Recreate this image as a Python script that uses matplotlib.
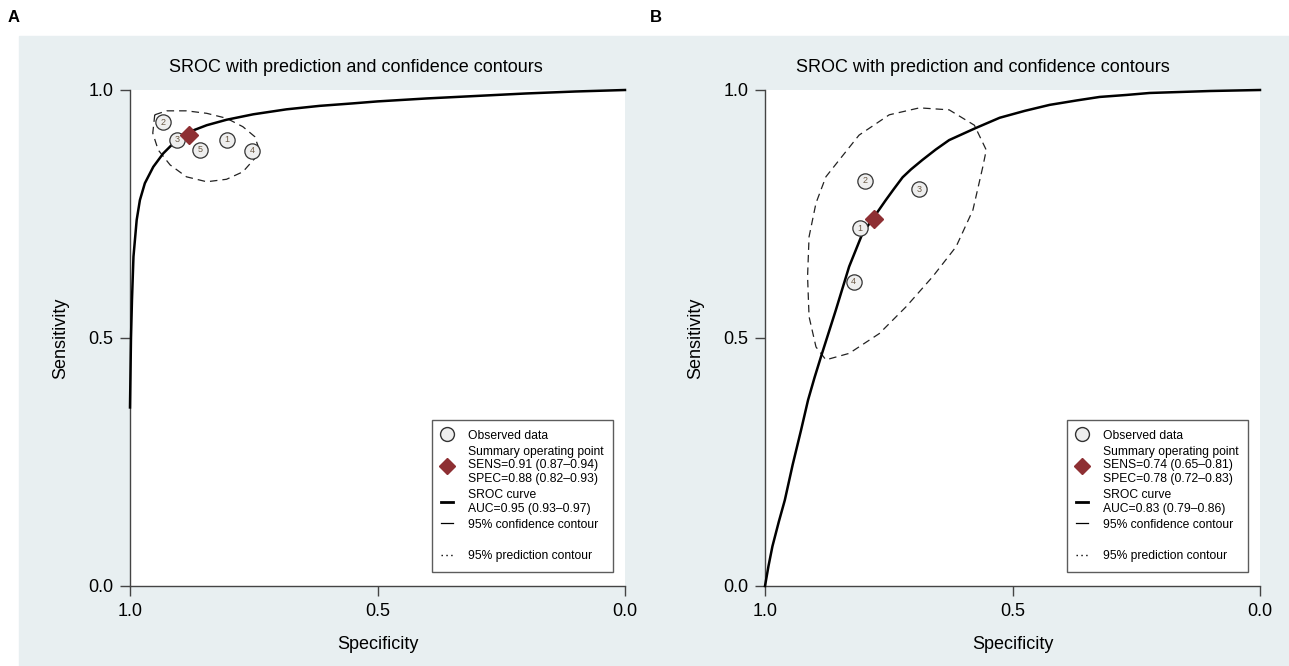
import matplotlib.pyplot as plt
from matplotlib.lines import Line2D
from matplotlib.patches import Rectangle

plt.rcParams['font.family'] = ['Liberation Sans', 'DejaVu Sans']

# panel A data
spec_curve_a = [1.0, 0.998, 0.996, 0.993, 0.9865, 0.980, 0.970, 0.953, 0.933, 0.906, 0.879,
                0.845, 0.805, 0.751, 0.684, 0.617, 0.55, 0.5, 0.45, 0.4, 0.3, 0.2, 0.1, 0.0]
sens_curve_a = [0.36, 0.50, 0.577, 0.664, 0.738, 0.778, 0.812, 0.845, 0.872, 0.899, 0.916,
                0.929, 0.940, 0.951, 0.961, 0.968, 0.973, 0.977, 0.980, 0.983, 0.988, 0.993,
                0.997, 1.0]
spec_conf_a = [0.950, 0.926, 0.886, 0.845, 0.805, 0.772, 0.748, 0.741, 0.748, 0.772, 0.805,
               0.845, 0.886, 0.919, 0.943, 0.954, 0.950]
sens_conf_a = [0.950, 0.958, 0.958, 0.953, 0.943, 0.926, 0.906, 0.886, 0.862, 0.835, 0.820,
               0.815, 0.825, 0.849, 0.879, 0.913, 0.950]
study_a = ['1', '2', '3', '4', '5']
spec_obs_a = [0.804, 0.934, 0.905, 0.753, 0.859]
sens_obs_a = [0.900, 0.935, 0.900, 0.878, 0.880]
summary_a = (0.88, 0.91)
stats_a = ['SENS=0.91 (0.87\u20130.94)', 'SPEC=0.88 (0.82\u20130.93)', 'AUC=0.95 (0.93\u20130.97)']

# panel B data
spec_curve_b = [1.0, 0.993, 0.985, 0.972, 0.960, 0.944, 0.927, 0.913, 0.900, 0.887, 0.857,
                0.830, 0.803, 0.779, 0.756, 0.740, 0.722, 0.705, 0.682, 0.655, 0.628, 0.575,
                0.526, 0.475, 0.425, 0.37, 0.324, 0.27, 0.223, 0.1, 0.0]
sens_curve_b = [0.0, 0.04, 0.08, 0.13, 0.173, 0.245, 0.315, 0.375, 0.42, 0.462, 0.556,
                0.644, 0.711, 0.745, 0.778, 0.800, 0.824, 0.840, 0.859, 0.880, 0.899, 0.923,
                0.944, 0.958, 0.970, 0.979, 0.986, 0.990, 0.994, 0.998, 1.0]
spec_conf_b = [0.560, 0.580, 0.614, 0.661, 0.715, 0.769, 0.830, 0.877, 0.897, 0.911, 0.914,
               0.911, 0.897, 0.877, 0.850, 0.810, 0.749, 0.688, 0.628, 0.577, 0.553, 0.560]
sens_conf_b = [0.845, 0.758, 0.684, 0.624, 0.563, 0.509, 0.469, 0.456, 0.482, 0.543, 0.624,
               0.704, 0.772, 0.825, 0.859, 0.909, 0.950, 0.964, 0.960, 0.929, 0.879, 0.845]
study_b = ['1', '2', '3', '4']
spec_obs_b = [0.808, 0.798, 0.688, 0.821]
sens_obs_b = [0.721, 0.817, 0.800, 0.613]
summary_b = (0.78, 0.74)
stats_b = ['SENS=0.74 (0.65\u20130.81)', 'SPEC=0.78 (0.72\u20130.83)', 'AUC=0.83 (0.79\u20130.86)']

bg = '#e8eff1'
red = '#8e2f33'
W, H = 1289, 666

fig = plt.figure(figsize=(W / 100, H / 100), dpi=100)
fig.patches.append(Rectangle((19 / W, 0), 1 - 19 / W, (H - 36) / H,
                             transform=fig.transFigure, color=bg, zorder=-10))


def panel(left, title_x, letter, letter_x, spec_c, sens_c, spec_e, sens_e,
          labels, spec_o, sens_o, summary, stats):
    ax = fig.add_axes([left / W, (H - 586) / H, 495 / W, 496 / H])
    ax.set_facecolor('white')
    ax.set_xlim(1, 0)
    ax.set_ylim(0, 1)
    for s in ['top', 'right']:
        ax.spines[s].set_visible(False)
    for s in ['left', 'bottom']:
        ax.spines[s].set_color('#444444')
        ax.spines[s].set_linewidth(1.0)
    ax.set_xticks([1.0, 0.5, 0.0])
    ax.set_yticks([0.0, 0.5, 1.0])
    ax.set_xticklabels(['1.0', '0.5', '0.0'])
    ax.set_yticklabels(['0.0', '0.5', '1.0'])
    ax.tick_params(direction='out', length=7, width=1, color='#444444',
                   labelsize=13, pad=5)
    ax.set_xlabel('Specificity', fontsize=13, labelpad=12)
    ax.set_ylabel('Sensitivity', fontsize=13, labelpad=14)

    # SROC curve and confidence contour
    ax.plot(spec_c, sens_c, color='black', lw=1.8, clip_on=False, zorder=3)
    ax.plot(spec_e, sens_e, color='#222222', lw=0.9, ls=(0, (6, 4)), zorder=2)

    # observed studies
    ax.plot(spec_o, sens_o, 'o', ms=11, mfc='#eeeeee', mec='#333333', mew=0.9,
            ls='none', zorder=4)
    for lab, x, y in zip(labels, spec_o, sens_o):
        ax.text(x, y, lab, fontsize=6.5, ha='center', va='center',
                color='#6b5a45', zorder=5)

    # summary operating point
    ax.plot(summary[0], summary[1], 'D', ms=9, color=red, zorder=6)

    handles = [
        Line2D([], [], marker='o', ls='none', ms=10, mfc='#eeeeee', mec='#333333'),
        Line2D([], [], marker='D', ls='none', ms=8, color=red),
        Line2D([], [], color='black', lw=2),
        Line2D([], [], color='black', lw=0.9),
        Line2D([], [], ls='none'),
        Line2D([], [], color='black', lw=1, ls=(0, (1, 2.5))),
    ]
    names = [
        'Observed data',
        'Summary operating point\n' + stats[0] + '\n' + stats[1],
        'SROC curve\n' + stats[2],
        '95% confidence contour',
        ' ',
        '95% prediction contour',
    ]
    leg = ax.legend(handles, names, loc='lower right', fontsize=8.7, frameon=True,
                    fancybox=False, edgecolor='#333333', handlelength=1.0,
                    handletextpad=1.2, labelspacing=0.32, borderpad=0.8,
                    borderaxespad=0, bbox_to_anchor=(0.976, 0.028))
    leg.get_frame().set_linewidth(1.0)

    fig.text(title_x / W, 1 - 68 / H, 'SROC with prediction and confidence contours',
             fontsize=13, ha='center', va='center')
    fig.text(letter_x / W, 1 - 18 / H, letter, fontsize=12, fontweight='bold',
             ha='center', va='center')
    return ax


panel(130, 356, 'A', 14, spec_curve_a, sens_curve_a, spec_conf_a, sens_conf_a,
      study_a, spec_obs_a, sens_obs_a, summary_a, stats_a)
panel(765, 983, 'B', 656, spec_curve_b, sens_curve_b, spec_conf_b, sens_conf_b,
      study_b, spec_obs_b, sens_obs_b, summary_b, stats_b)

fig.savefig('out.png', dpi=100)
